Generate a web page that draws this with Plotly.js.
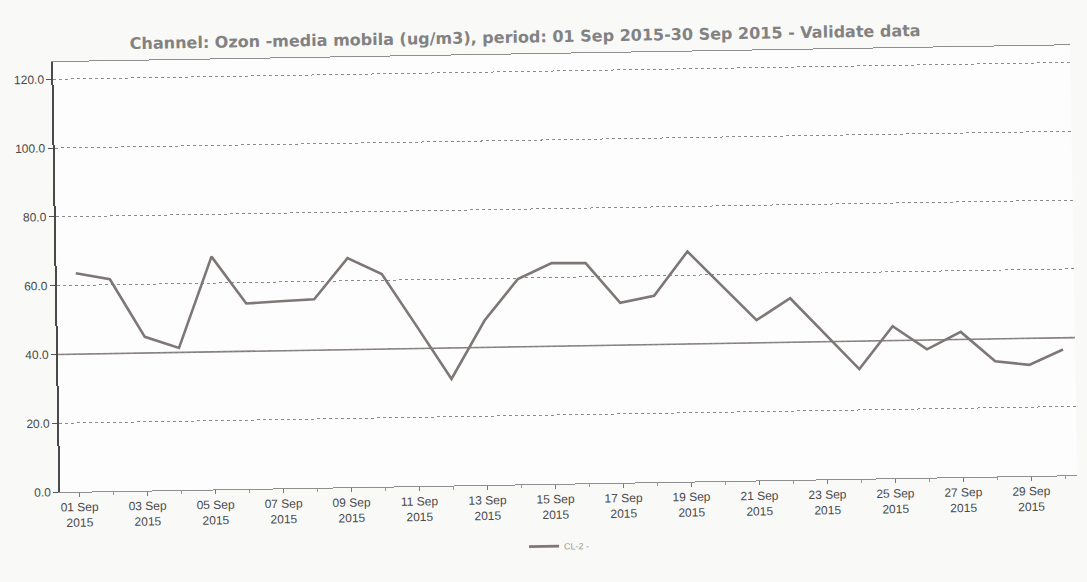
<!DOCTYPE html>
<html>
<head>
<meta charset="utf-8">
<script src="https://cdn.plot.ly/plotly-3.0.1.min.js"></script>
<style>
  html, body { margin: 0; padding: 0; background: #f9f9f8; }
  #chart { width: 1087px; height: 582px; transform: rotate(-0.95deg); transform-origin: 50% 50%; }
</style>
</head>
<body>
<div id="chart"></div>
<script>
// ---- data ----
const dates = [
  '2015-09-01','2015-09-02','2015-09-03','2015-09-04','2015-09-05','2015-09-06',
  '2015-09-07','2015-09-08','2015-09-09','2015-09-10','2015-09-11','2015-09-12',
  '2015-09-13','2015-09-14','2015-09-15','2015-09-16','2015-09-17','2015-09-18',
  '2015-09-19','2015-09-20','2015-09-21','2015-09-22','2015-09-23','2015-09-24',
  '2015-09-25','2015-09-26','2015-09-27','2015-09-28','2015-09-29','2015-09-30'
];
const ozone = [
  63.5, 61.6, 44.7, 41.3, 67.7, 53.9,
  54.4, 54.8, 66.6, 61.8, 46.5, 31.0,
  47.8, 59.7, 64.2, 64.0, 52.3, 54.2,
  66.9, 56.7, 46.6, 52.8, 42.4, 31.9,
  44.2, 37.3, 42.2, 33.5, 32.3, 36.6
];
const seriesName = 'CL-2 -';
const tickDates = ['2015-09-01','2015-09-03','2015-09-05','2015-09-07','2015-09-09',
  '2015-09-11','2015-09-13','2015-09-15','2015-09-17','2015-09-19','2015-09-21',
  '2015-09-23','2015-09-25','2015-09-27','2015-09-29'];
const tickLabels = ['01 Sep<br>2015','03 Sep<br>2015','05 Sep<br>2015','07 Sep<br>2015',
  '09 Sep<br>2015','11 Sep<br>2015','13 Sep<br>2015','15 Sep<br>2015','17 Sep<br>2015',
  '19 Sep<br>2015','21 Sep<br>2015','23 Sep<br>2015','25 Sep<br>2015','27 Sep<br>2015',
  '29 Sep<br>2015'];
const yTicks = [0, 20, 40, 60, 80, 100, 120];
const referenceLevel = 40;
const titleText = 'Channel: Ozon -media mobila (ug/m3), period: 01 Sep 2015-30 Sep 2015 - Validate data';

const trace = {
  x: dates, y: ozone, type: 'scatter', mode: 'lines', name: seriesName,
  line: { color: '#7f7676', width: 2.6 }
};

const layout = {
  width: 1087, height: 582,
  paper_bgcolor: '#f9f9f8', plot_bgcolor: '#fdfdfd',
  margin: { l: 57, r: 13, t: 54, b: 98 },
  title: {
    text: titleText, x: 0.487, xanchor: 'center', y: 0.937, yanchor: 'middle',
    font: { family: 'DejaVu Sans', size: 16, color: '#828282', weight: 'bold' }
  },
  showlegend: true,
  legend: {
    orientation: 'h', x: 0.49, xanchor: 'center', y: -0.145, yanchor: 'middle',
    font: { family: 'Liberation Sans', size: 9, color: '#9a9a9a' },
    bgcolor: 'rgba(0,0,0,0)', itemwidth: 30
  },
  xaxis: {
    type: 'date',
    range: ['2015-08-31 10:30', '2015-09-30 08:30'],
    tickvals: tickDates, ticktext: tickLabels,
    tickfont: { family: 'Liberation Sans', size: 12, color: '#4a4a4a' },
    ticks: 'outside', ticklen: 4, tickcolor: '#777',
    minor: { dtick: 86400000, tick0: '2015-09-01', ticks: 'outside', ticklen: 3, tickcolor: '#999', showgrid: false },
    showgrid: false, showline: true, linecolor: '#8f8f8f', linewidth: 1, mirror: true,
    zeroline: false, fixedrange: true
  },
  yaxis: {
    range: [0, 125], tickvals: yTicks, tickformat: '.1f',
    tickfont: { family: 'Liberation Sans', size: 12, color: '#4a4a4a' },
    ticks: 'outside', ticklen: 5, tickcolor: '#555',
    showgrid: true, gridcolor: '#8c8c8c', griddash: 'dot', gridwidth: 1,
    showline: true, linecolor: '#4a4a4a', linewidth: 2,
    zeroline: false, fixedrange: true
  },
  shapes: [{
    type: 'line', xref: 'paper', x0: 0, x1: 1, yref: 'y', y0: referenceLevel, y1: referenceLevel,
    line: { color: '#857a7a', width: 1.6 }, layer: 'below'
  }]
};

Plotly.newPlot('chart', [trace], layout, { displayModeBar: false, staticPlot: true });
</script>
</body>
</html>
